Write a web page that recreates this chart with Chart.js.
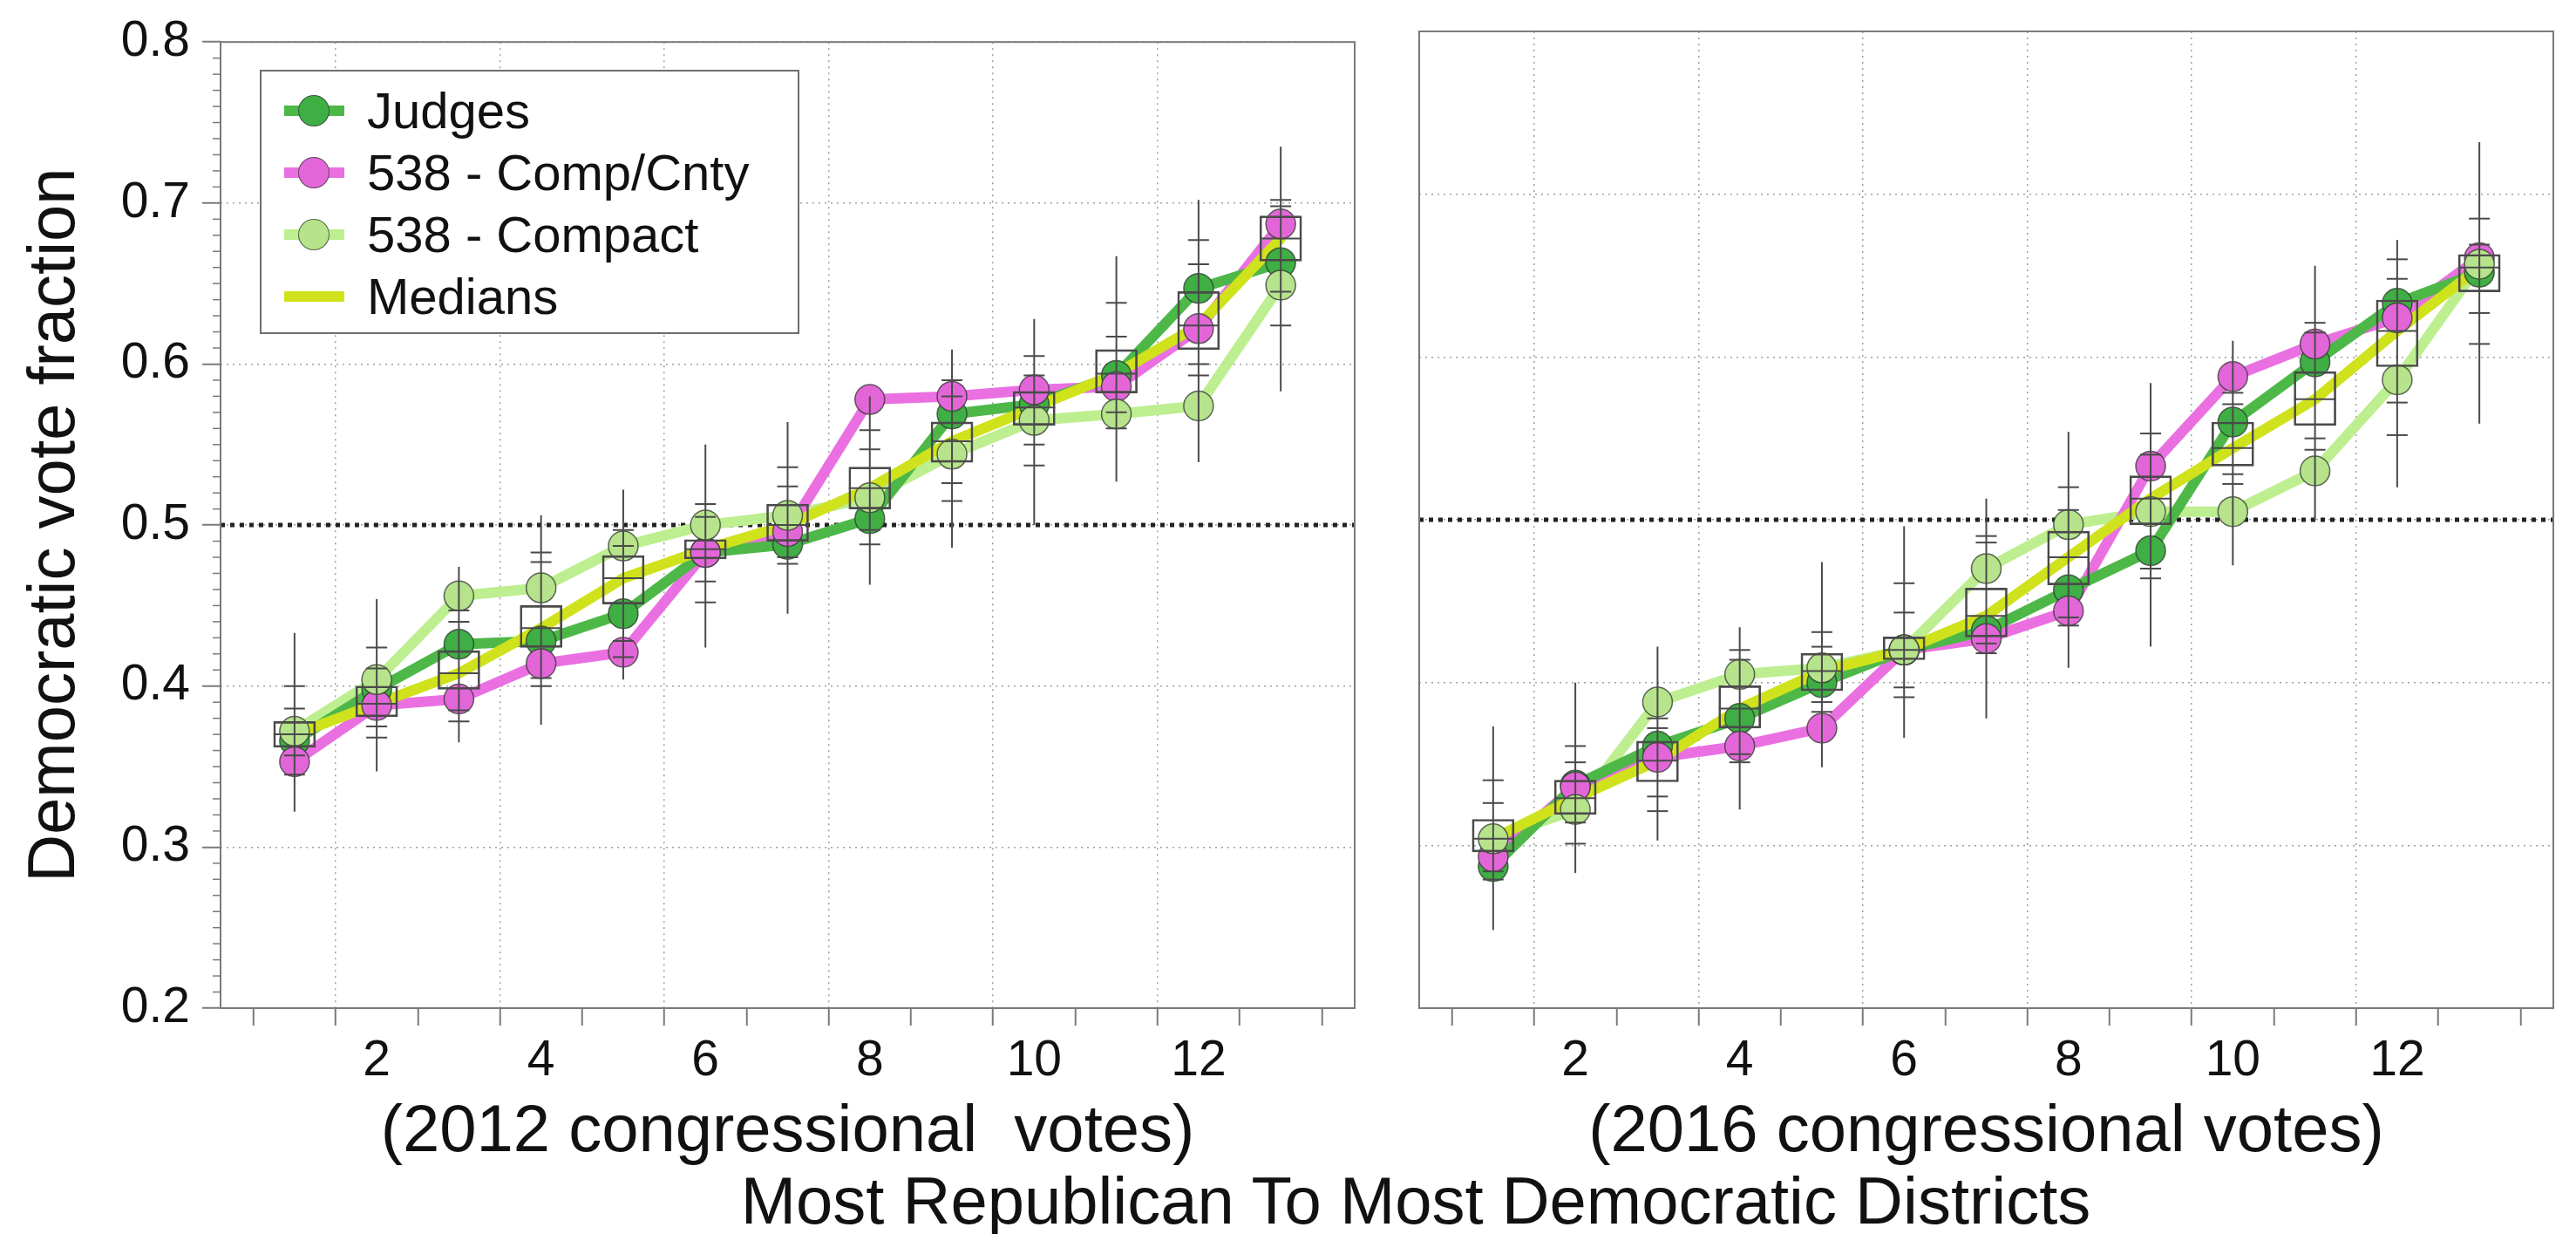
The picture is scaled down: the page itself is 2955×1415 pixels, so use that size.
<!DOCTYPE html>
<html lang="en">
<head>
<meta charset="utf-8">
<title>Democratic vote fraction by district, 2012 and 2016</title>
<script src="https://cdn.jsdelivr.net/npm/chart.js@4.4.1/dist/chart.umd.min.js"></script>
<style>
    html, body { margin: 0; padding: 0; background: #fff; }
    body {
        position: relative;
        width: 2955px;
        height: 1415px;
        overflow: hidden;
        font-family: 'Liberation Sans', Arial, Helvetica, sans-serif;
        color: #111;
    }
    canvas { position: absolute; top: 0; }
    #chart2012 { left: 0; }
    #chart2016 { left: 1580px; }

    #legend {
        position: absolute;
        left: 298px;
        top: 80px;
        width: 619px;
        height: 303px;
        box-sizing: border-box;
        border: 2px solid #6e6e6e;
        background: #fff;
    }
    .legend-item { position: absolute; left: 0; width: 100%; height: 70px; }
    .legend-line { position: absolute; left: 26px; top: 29px; width: 69px; height: 12px; }
    .legend-dot {
        position: absolute;
        left: 42px;
        top: 17px;
        width: 36px;
        height: 36px;
        box-sizing: border-box;
        border-radius: 50%;
        border: 1.5px solid rgba(50, 60, 50, 0.75);
    }
    .legend-label {
        position: absolute;
        left: 121px;
        top: 0;
        line-height: 70px;
        font-size: 58px;
        white-space: nowrap;
    }

    #xCaption {
        position: absolute;
        left: 1624px;
        top: 1339px;
        transform: translateX(-50%);
        font-size: 76px;
        line-height: 76px;
        white-space: nowrap;
    }
</style>
</head>
<body>
<canvas id="chart2012" width="1580" height="1415"></canvas>
<canvas id="chart2016" width="1375" height="1415"></canvas>
<div id="legend"></div>
<div id="xCaption">Most Republican To Most Democratic Districts</div>

<script>
// District rank, most Republican (1) to most Democratic (13)
const districts = [1, 2, 3, 4, 5, 6, 7, 8, 9, 10, 11, 12, 13];

// 2012 congressional votes
const judges2012   = [0.366, 0.398, 0.426, 0.428, 0.445, 0.483, 0.488, 0.504, 0.569, 0.575, 0.593, 0.647, 0.663];
const compCnty2012 = [0.353, 0.388, 0.392, 0.414, 0.421, 0.483, 0.496, 0.578, 0.580, 0.584, 0.586, 0.622, 0.687];
const compact2012  = [0.372, 0.404, 0.456, 0.461, 0.487, 0.500, 0.506, 0.517, 0.544, 0.565, 0.569, 0.574, 0.649];
const medians2012  = [0.370, 0.389, 0.408, 0.436, 0.467, 0.485, 0.500, 0.523, 0.552, 0.573, 0.594, 0.624, 0.678];
const boxLow2012   = [0.362, 0.381, 0.398, 0.424, 0.451, 0.479, 0.490, 0.510, 0.539, 0.562, 0.582, 0.609, 0.664];
const boxHigh2012  = [0.378, 0.400, 0.422, 0.450, 0.481, 0.491, 0.513, 0.536, 0.564, 0.583, 0.609, 0.645, 0.692];
const whiskerLow2012  = [0.322, 0.347, 0.365, 0.376, 0.404, 0.424, 0.445, 0.463, 0.486, 0.500, 0.527, 0.539, 0.583];
const whiskerHigh2012 = [0.433, 0.454, 0.474, 0.506, 0.522, 0.550, 0.564, 0.580, 0.609, 0.628, 0.667, 0.702, 0.735];
const dashes2012 = [
    [0.400, 0.386, 0.357, 0.345],
    [0.424, 0.411, 0.375, 0.368],
    [0.447, 0.440, 0.385, 0.378],
    [0.483, 0.477, 0.405, 0.400],
    [0.497, 0.487, 0.428, 0.418],
    [0.513, 0.505, 0.465, 0.452],
    [0.536, 0.524, 0.480, 0.476],
    [0.559, 0.547, 0.497, 0.488],
    [0.590, 0.580, 0.526, 0.515],
    [0.605, 0.593, 0.550, 0.537],
    [0.638, 0.617, 0.570, 0.560],
    [0.677, 0.662, 0.600, 0.593],
    [0.702, 0.698, 0.645, 0.624],
];

// 2016 congressional votes
const judges2016   = [0.287, 0.337, 0.361, 0.378, 0.400, 0.420, 0.432, 0.457, 0.481, 0.560, 0.597, 0.633, 0.652];
const compCnty2016 = [0.293, 0.336, 0.354, 0.361, 0.372, 0.420, 0.427, 0.444, 0.533, 0.588, 0.608, 0.624, 0.661];
const compact2016  = [0.304, 0.322, 0.388, 0.405, 0.409, 0.420, 0.470, 0.497, 0.505, 0.505, 0.530, 0.586, 0.657];
const medians2016  = [0.304, 0.329, 0.352, 0.384, 0.407, 0.420, 0.441, 0.477, 0.513, 0.544, 0.574, 0.616, 0.655];
const boxLow2016   = [0.296, 0.319, 0.339, 0.372, 0.395, 0.414, 0.428, 0.460, 0.497, 0.533, 0.558, 0.594, 0.640];
const boxHigh2016  = [0.316, 0.340, 0.364, 0.398, 0.418, 0.428, 0.458, 0.493, 0.527, 0.560, 0.591, 0.635, 0.663];
const whiskerLow2016  = [0.248, 0.283, 0.303, 0.322, 0.348, 0.366, 0.378, 0.409, 0.422, 0.472, 0.500, 0.520, 0.559];
const whiskerHigh2016 = [0.373, 0.400, 0.422, 0.434, 0.474, 0.496, 0.513, 0.554, 0.584, 0.610, 0.656, 0.672, 0.732];
const dashes2016 = [
    [0.340, 0.326, 0.284, 0.279],
    [0.361, 0.351, 0.314, 0.301],
    [0.378, 0.372, 0.330, 0.321],
    [0.420, 0.414, 0.356, 0.351],
    [0.431, 0.422, 0.388, 0.382],
    [0.461, 0.443, 0.397, 0.391],
    [0.490, 0.486, 0.424, 0.418],
    [0.520, 0.506, 0.440, 0.435],
    [0.553, 0.540, 0.470, 0.464],
    [0.578, 0.571, 0.528, 0.522],
    [0.621, 0.615, 0.550, 0.543],
    [0.660, 0.648, 0.572, 0.552],
    [0.685, 0.669, 0.627, 0.608],
];

// Axis ticks and labels
const yTickValues = [0.2, 0.3, 0.4, 0.5, 0.6, 0.7, 0.8];
const xTickLabels = [2, 4, 6, 8, 10, 12];
const xRange = [0.1, 13.9];
const majorityLine = 0.5;

const seriesNames = ['Judges', '538 - Comp/Cnty', '538 - Compact', 'Medians'];
const panelCaptions = ['(2012 congressional  votes)', '(2016 congressional votes)'];
const yAxisTitle = 'Democratic vote fraction';

const COLORS = {
    judges: '#4db848',
    judgesMarker: '#3fae44',
    compCnty: '#ea70e2',
    compCntyMarker: '#e366d9',
    compact: '#bdee8f',
    compactMarker: '#b6e38b',
    medians: '#cfe21c',
    markerBorder: 'rgba(45, 55, 45, 0.75)',
    ensemble: '#4a4a4a',
    majority: '#222',
    grid: '#a0a0a0',
    frame: '#7a7a7a',
    text: '#111',
};

Chart.defaults.font.family = "'Liberation Sans', Arial, Helvetica, sans-serif";
Chart.defaults.color = COLORS.text;

/**
 * Gray frame around the plot area
 */
const panelFrame = {
    id: 'panelFrame',
    afterDraw(chart) {
        const { ctx, chartArea: a } = chart;
        ctx.save();
        ctx.strokeStyle = COLORS.frame;
        ctx.lineWidth = 2;
        ctx.strokeRect(a.left, a.top, a.right - a.left, a.bottom - a.top);
        ctx.restore();
    },
};

/**
 * Short minor ticks every 0.01 on the left y axis
 */
const minorTicks = {
    id: 'minorTicks',
    afterDraw(chart) {
        const yScale = chart.scales.y;
        const left = chart.chartArea.left;
        const ctx = chart.ctx;
        ctx.save();
        ctx.strokeStyle = COLORS.frame;
        ctx.lineWidth = 1.5;
        for (let i = 20; i <= 80; i++) {
            if (i % 10 === 0) continue;
            const py = yScale.getPixelForValue(i / 100);
            ctx.beginPath();
            ctx.moveTo(left - 9, py);
            ctx.lineTo(left, py);
            ctx.stroke();
        }
        ctx.restore();
    },
};

/**
 * Turn a value array into {x, y} points along the districts
 */
function toPoints(values) {
    return districts.map((d, i) => ({ x: d, y: values[i] }));
}

/**
 * Vertical whisker segments separated by gaps
 */
function whiskerPoints(low, high) {
    const points = [];
    districts.forEach((d, i) => {
        points.push({ x: d, y: low[i] });
        points.push({ x: d, y: high[i] });
        points.push({ x: d, y: null });
    });
    return points;
}

/**
 * Horizontal dash marks on each whisker
 */
function dashPoints(dashes) {
    const points = [];
    districts.forEach((d, i) => {
        dashes[i].forEach(v => points.push({ x: d, y: v }));
    });
    return points;
}

function seriesLine(label, values, color, order) {
    return {
        type: 'line',
        label,
        data: toPoints(values),
        borderColor: color,
        borderWidth: 12,
        borderJoinStyle: 'round',
        borderCapStyle: 'round',
        pointRadius: 0,
        order,
    };
}

function seriesMarkers(label, values, color, order) {
    return {
        type: 'scatter',
        label,
        data: toPoints(values),
        pointRadius: 17,
        pointBackgroundColor: color,
        pointBorderColor: COLORS.markerBorder,
        pointBorderWidth: 1.5,
        order,
    };
}

/**
 * All datasets for one panel
 */
function buildDatasets(p) {
    return [
        {
            type: 'line',
            data: [{ x: xRange[0], y: majorityLine }, { x: xRange[1], y: majorityLine }],
            borderColor: COLORS.majority,
            borderWidth: 5,
            borderDash: [5, 6],
            pointRadius: 0,
            order: 20,
        },
        seriesLine(seriesNames[2], p.compact, COLORS.compact, 13),
        seriesLine(seriesNames[1], p.compCnty, COLORS.compCnty, 12),
        seriesLine(seriesNames[0], p.judges, COLORS.judges, 11),
        seriesLine(seriesNames[3], p.medians, COLORS.medians, 10),
        seriesMarkers(seriesNames[0], p.judges, COLORS.judgesMarker, 9),
        seriesMarkers(seriesNames[1], p.compCnty, COLORS.compCntyMarker, 8),
        seriesMarkers(seriesNames[2], p.compact, COLORS.compactMarker, 7),
        {
            type: 'bar',
            data: districts.map((d, i) => ({ x: d, y: [p.boxLow[i], p.boxHigh[i]] })),
            backgroundColor: 'rgba(0, 0, 0, 0)',
            borderColor: COLORS.ensemble,
            borderWidth: 2,
            borderSkipped: false,
            barThickness: 48,
            order: 4,
        },
        {
            type: 'line',
            data: whiskerPoints(p.whiskerLow, p.whiskerHigh),
            borderColor: COLORS.ensemble,
            borderWidth: 2,
            pointRadius: 0,
            spanGaps: false,
            order: 3,
        },
        {
            type: 'scatter',
            data: dashPoints(p.dashes),
            pointStyle: 'line',
            pointRadius: 12,
            pointBorderWidth: 2,
            pointBorderColor: COLORS.ensemble,
            order: 2,
        },
        {
            type: 'scatter',
            data: toPoints(p.medians),
            pointStyle: 'line',
            pointRadius: 24,
            pointBorderWidth: 2,
            pointBorderColor: COLORS.ensemble,
            order: 1,
        },
    ];
}

function formatYTick(value) {
    const match = yTickValues.find(t => Math.abs(t - value) < 1e-6);
    return match === undefined ? '' : match.toFixed(1);
}

/**
 * Chart options for one panel
 */
function buildOptions(panel) {
    return {
        responsive: false,
        animation: false,
        events: [],
        layout: { padding: { top: 36, right: panel.padRight, bottom: 70, left: 0 } },
        plugins: {
            legend: { display: false },
            tooltip: { enabled: false },
        },
        scales: {
            x: {
                type: 'linear',
                min: xRange[0],
                max: xRange[1],
                offset: false,
                afterFit: (scale) => { scale.height = 189; },
                ticks: {
                    stepSize: 1,
                    includeBounds: false,
                    autoSkip: false,
                    maxRotation: 0,
                    padding: 7,
                    color: COLORS.text,
                    font: { size: 57 },
                    callback: (v) => (xTickLabels.includes(v) ? String(v) : ''),
                },
                grid: {
                    color: (ctx) => (ctx.tick && xTickLabels.includes(ctx.tick.value) ? COLORS.grid : 'rgba(0, 0, 0, 0)'),
                    lineWidth: 1.5,
                    tickColor: COLORS.frame,
                    tickLength: 20,
                    tickWidth: 2,
                },
                border: { display: false, dash: [2, 5] },
                title: {
                    display: true,
                    text: panel.caption,
                    color: COLORS.text,
                    font: { size: 76 },
                    padding: { top: 0, bottom: 0 },
                },
            },
            y: {
                type: 'linear',
                min: yTickValues[0],
                max: yTickValues[yTickValues.length - 1],
                afterFit: (scale) => { scale.width = panel.yAxisWidth; },
                ticks: {
                    display: panel.showY,
                    stepSize: 0.1,
                    padding: 14,
                    color: COLORS.text,
                    font: { size: 57 },
                    callback: formatYTick,
                },
                grid: {
                    color: COLORS.grid,
                    lineWidth: 1.5,
                    drawTicks: panel.showY,
                    tickColor: COLORS.frame,
                    tickLength: 21,
                    tickWidth: 2,
                },
                border: { display: false, dash: [2, 5] },
                title: {
                    display: panel.showY,
                    text: yAxisTitle,
                    color: COLORS.text,
                    font: { size: 76 },
                    padding: { top: 18, bottom: 0 },
                },
            },
        },
    };
}

/**
 * Legend drawn in the upper-left corner of the 2012 panel
 */
function buildLegend() {
    const legend = document.getElementById('legend');
    const entries = [
        { line: COLORS.judges, dot: COLORS.judgesMarker },
        { line: COLORS.compCnty, dot: COLORS.compCntyMarker },
        { line: COLORS.compact, dot: COLORS.compactMarker },
        { line: COLORS.medians, dot: null },
    ];
    entries.forEach((entry, i) => {
        const item = document.createElement('div');
        item.className = 'legend-item';
        item.style.top = (10 + i * 71) + 'px';
        item.innerHTML = `
            <div class="legend-line" style="background:${entry.line}"></div>
            ${entry.dot ? `<div class="legend-dot" style="background:${entry.dot}"></div>` : ''}
            <span class="legend-label">${seriesNames[i]}</span>
        `;
        legend.appendChild(item);
    });
}

document.addEventListener('DOMContentLoaded', () => {
    const panel2012 = {
        judges: judges2012, compCnty: compCnty2012, compact: compact2012, medians: medians2012,
        boxLow: boxLow2012, boxHigh: boxHigh2012,
        whiskerLow: whiskerLow2012, whiskerHigh: whiskerHigh2012, dashes: dashes2012,
    };
    const panel2016 = {
        judges: judges2016, compCnty: compCnty2016, compact: compact2016, medians: medians2016,
        boxLow: boxLow2016, boxHigh: boxHigh2016,
        whiskerLow: whiskerLow2016, whiskerHigh: whiskerHigh2016, dashes: dashes2016,
    };

    new Chart(document.getElementById('chart2012'), {
        type: 'scatter',
        data: { datasets: buildDatasets(panel2012) },
        options: buildOptions({ caption: panelCaptions[0], padRight: 16, yAxisWidth: 253, showY: true }),
        plugins: [panelFrame, minorTicks],
    });

    new Chart(document.getElementById('chart2016'), {
        type: 'scatter',
        data: { datasets: buildDatasets(panel2016) },
        options: buildOptions({ caption: panelCaptions[1], padRight: 19, yAxisWidth: 48, showY: false }),
        plugins: [panelFrame],
    });

    buildLegend();
});
</script>
</body>
</html>
